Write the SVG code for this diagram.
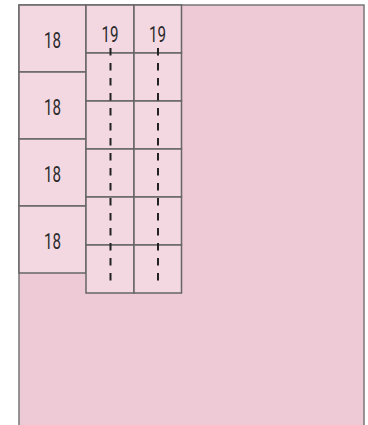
<svg xmlns="http://www.w3.org/2000/svg" width="368" height="425" viewBox="0 0 368 425">
<style>
.bg{fill:#eecad6;stroke:#777;stroke-width:1.5}
.box{fill:#f3d8e2;stroke:#666;stroke-width:1.5}
.lbl{font-family:Roboto,"Liberation Sans",sans-serif;font-size:22px;font-weight:400;fill:#2a2a2a;text-anchor:middle}
.dash{stroke:#222;stroke-width:2;stroke-dasharray:7.5 7.5;fill:none}
</style>
<rect width="368" height="425" fill="#ffffff"/>
<g id="background"><rect class="bg" x="19" y="5" width="345" height="430"/></g>
<g id="n18a"><rect class="box" x="19" y="5" width="67" height="67"/><text class="lbl" x="52.5" y="47.5" textLength="17" lengthAdjust="spacingAndGlyphs">18</text></g>
<g id="n18b"><rect class="box" x="19" y="72" width="67" height="67"/><text class="lbl" x="52.5" y="114.5" textLength="17" lengthAdjust="spacingAndGlyphs">18</text></g>
<g id="n18c"><rect class="box" x="19" y="139" width="67" height="67"/><text class="lbl" x="52.5" y="181.5" textLength="17" lengthAdjust="spacingAndGlyphs">18</text></g>
<g id="n18d"><rect class="box" x="19" y="206" width="67" height="67"/><text class="lbl" x="52.5" y="248.5" textLength="17" lengthAdjust="spacingAndGlyphs">18</text></g>
<g id="col1">
<rect class="box" x="86" y="5" width="48" height="48"/>
<rect class="box" x="86" y="53" width="48" height="48"/>
<rect class="box" x="86" y="101" width="48" height="48"/>
<rect class="box" x="86" y="149" width="48" height="48"/>
<rect class="box" x="86" y="197" width="48" height="48"/>
<rect class="box" x="86" y="245" width="48" height="48"/>
<text class="lbl" x="110" y="41.5" textLength="17" lengthAdjust="spacingAndGlyphs">19</text>
</g>
<g id="col2">
<rect class="box" x="134" y="5" width="47.5" height="48"/>
<rect class="box" x="134" y="53" width="47.5" height="48"/>
<rect class="box" x="134" y="101" width="47.5" height="48"/>
<rect class="box" x="134" y="149" width="47.5" height="48"/>
<rect class="box" x="134" y="197" width="47.5" height="48"/>
<rect class="box" x="134" y="245" width="47.5" height="48"/>
<text class="lbl" x="157.5" y="41.5" textLength="17" lengthAdjust="spacingAndGlyphs">19</text>
</g>
<g id="connectors">
<line class="dash" x1="110.5" y1="48" x2="110.5" y2="283"/>
<line class="dash" x1="158" y1="48" x2="158" y2="283"/>
</g>
</svg>
